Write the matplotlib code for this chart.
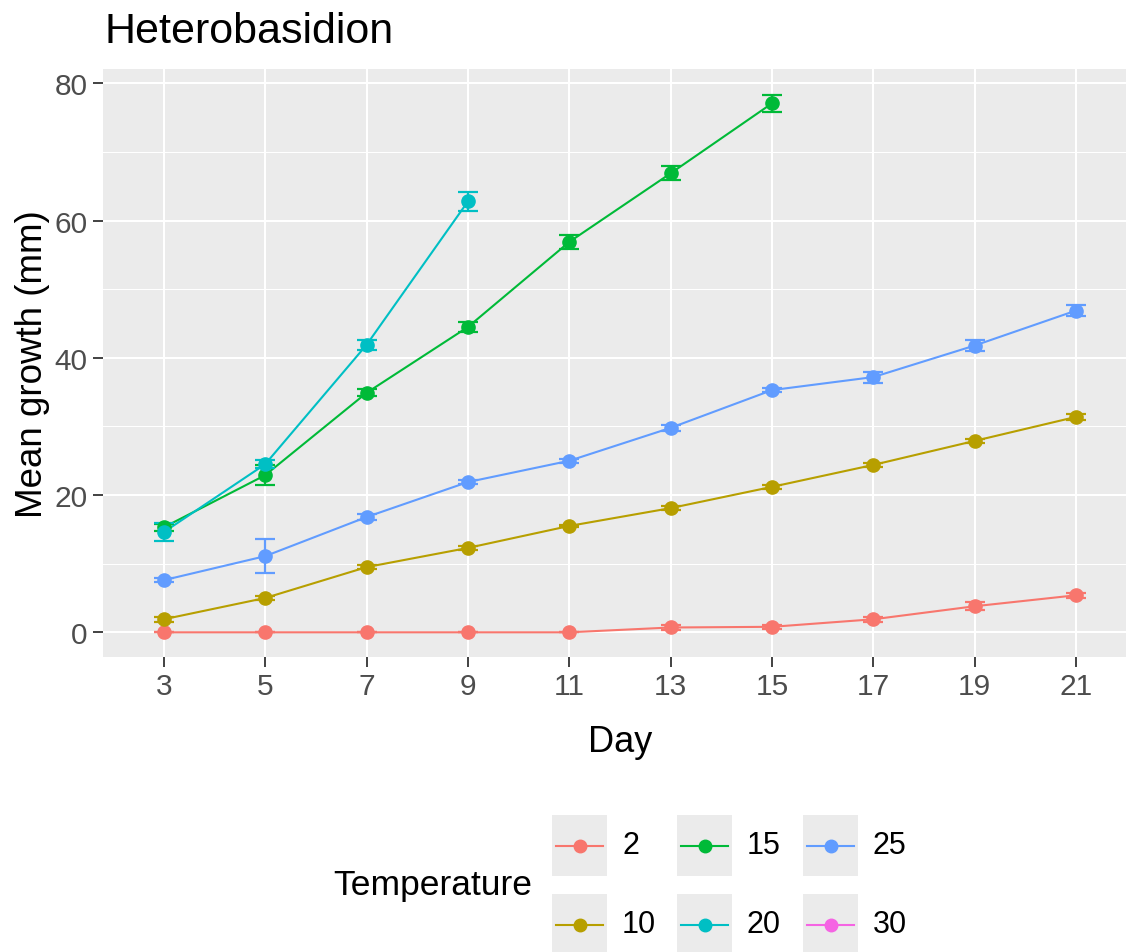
import matplotlib
matplotlib.use("Agg")
import matplotlib.pyplot as plt
from matplotlib.ticker import MultipleLocator, FixedLocator
from matplotlib.patches import Rectangle
from matplotlib.lines import Line2D

plt.rcParams['font.family'] = ['Liberation Sans', 'DejaVu Sans']

# ---------------- data ----------------
days = [3, 5, 7, 9, 11, 13, 15, 17, 19, 21]
temperatures = ['2', '10', '15', '20', '25', '30']
colors = ['#F8766D', '#B79F00', '#00BA38', '#00BFC4', '#619CFF', '#F564E3']

days_2 = days
growth_2 = [0.0, 0.0, 0.0, 0.0, 0.0, 0.7, 0.8, 1.9, 3.8, 5.4]
se_2 = [0.0, 0.0, 0.0, 0.0, 0.0, 0.3, 0.3, 0.4, 0.6, 0.4]

days_10 = days
growth_10 = [1.9, 5.0, 9.5, 12.3, 15.5, 18.1, 21.2, 24.4, 27.9, 31.4]
se_10 = [0.4, 0.3, 0.3, 0.3, 0.2, 0.3, 0.3, 0.3, 0.3, 0.4]

days_15 = [3, 5, 7, 9, 11, 13, 15]
growth_15 = [15.3, 22.9, 34.9, 44.5, 56.9, 66.9, 77.1]
se_15 = [0.5, 1.5, 0.5, 0.7, 1.0, 1.0, 1.2]

days_20 = [3, 5, 7, 9]
growth_20 = [14.6, 24.5, 41.9, 62.8]
se_20 = [1.35, 0.6, 0.75, 1.35]

days_25 = days
growth_25 = [7.6, 11.1, 16.8, 21.9, 25.0, 29.8, 35.3, 37.2, 41.8, 46.9]
se_25 = [0.3, 2.5, 0.4, 0.3, 0.3, 0.4, 0.3, 0.8, 0.85, 0.85]

days_30 = []
growth_30 = []
se_30 = []

series = [
    (days_2, growth_2, se_2),
    (days_10, growth_10, se_10),
    (days_15, growth_15, se_15),
    (days_20, growth_20, se_20),
    (days_25, growth_25, se_25),
    (days_30, growth_30, se_30),
]

# ---------------- figure ----------------
W, H = 1126, 953
fig = plt.figure(figsize=(W / 100, H / 100), dpi=100)

def fx(px):
    return px / W

def fy(py):
    return 1 - py / H

left, right, top, bottom = 103, 1137, 70, 658
ax = fig.add_axes([fx(left), fy(bottom), fx(right - left), (bottom - top) / H])
ax.set_facecolor('#EBEBEB')
for s in ax.spines.values():
    s.set_visible(False)

ax.set_xlim(days[0] - 1.2, days[-1] + 1.2)
ax.set_ylim(-3.6, 82.1)

ax.xaxis.set_major_locator(FixedLocator(days))
ax.xaxis.set_minor_locator(FixedLocator([]))
ax.yaxis.set_major_locator(MultipleLocator(20))
ax.yaxis.set_minor_locator(MultipleLocator(10))

ax.grid(which='major', color='white', linewidth=1.5)
ax.grid(which='minor', axis='y', color='white', linewidth=0.75)
ax.set_axisbelow(True)

ax.tick_params(axis='both', which='major', length=7, width=1.3, color='#333333',
               labelcolor='#4D4D4D', labelsize=21.5, pad=4)
ax.tick_params(axis='both', which='minor', length=0)
ax.set_xticklabels([str(d) for d in days])

for (dx, gy, se), col in zip(series, colors):
    if len(dx) == 0:
        continue
    ax.plot(dx, gy, color=col, lw=1.5, zorder=3)
    ax.errorbar(dx, gy, yerr=se, fmt='none', ecolor=col, elinewidth=1.6,
                capsize=7, capthick=1.6, zorder=4)
    ax.plot(dx, gy, 'o', color=col, ms=9.5, mec=col, zorder=5)

# titles and labels
fig.text(fx(105), fy(43), 'Heterobasidion', fontsize=31, ha='left', va='baseline', color='black')
fig.text(fx((left + right) / 2), fy(752), 'Day', fontsize=26, ha='center', va='baseline', color='black')
fig.text(fx(33), fy((top + bottom) / 2), 'Mean growth (mm)', fontsize=26.5, rotation=90,
         ha='center', va='center', color='black')

# ---------------- legend ----------------
fig.text(fx(333), fy(886), 'Temperature', fontsize=25.5, ha='left', va='center', color='black')
key_x = [552, 677, 803]
key_w = 55
key_y = [816, 895]
key_h = 61
label_dx = 70
for i, (t, col) in enumerate(zip(temperatures, colors)):
    c, r = i // 2, i % 2
    x0, y0 = key_x[c], key_y[r]
    fig.patches.append(Rectangle((fx(x0), fy(y0 + key_h)), key_w / W, key_h / H,
                                 transform=fig.transFigure, facecolor='#EBEBEB',
                                 edgecolor='none', figure=fig))
    yc = fy(y0 + key_h / 2)
    fig.lines.append(Line2D([fx(x0 + 4), fx(x0 + key_w - 4)], [yc, yc], color=col, lw=1.5,
                            transform=fig.transFigure, figure=fig))
    fig.lines.append(Line2D([fx(x0 + key_w / 2)], [yc], marker='o', ms=9, color=col,
                            transform=fig.transFigure, figure=fig))
    fig.text(fx(x0 + label_dx), yc, t, fontsize=22, ha='left', va='center', color='black')

fig.savefig('out.png', dpi=100)
